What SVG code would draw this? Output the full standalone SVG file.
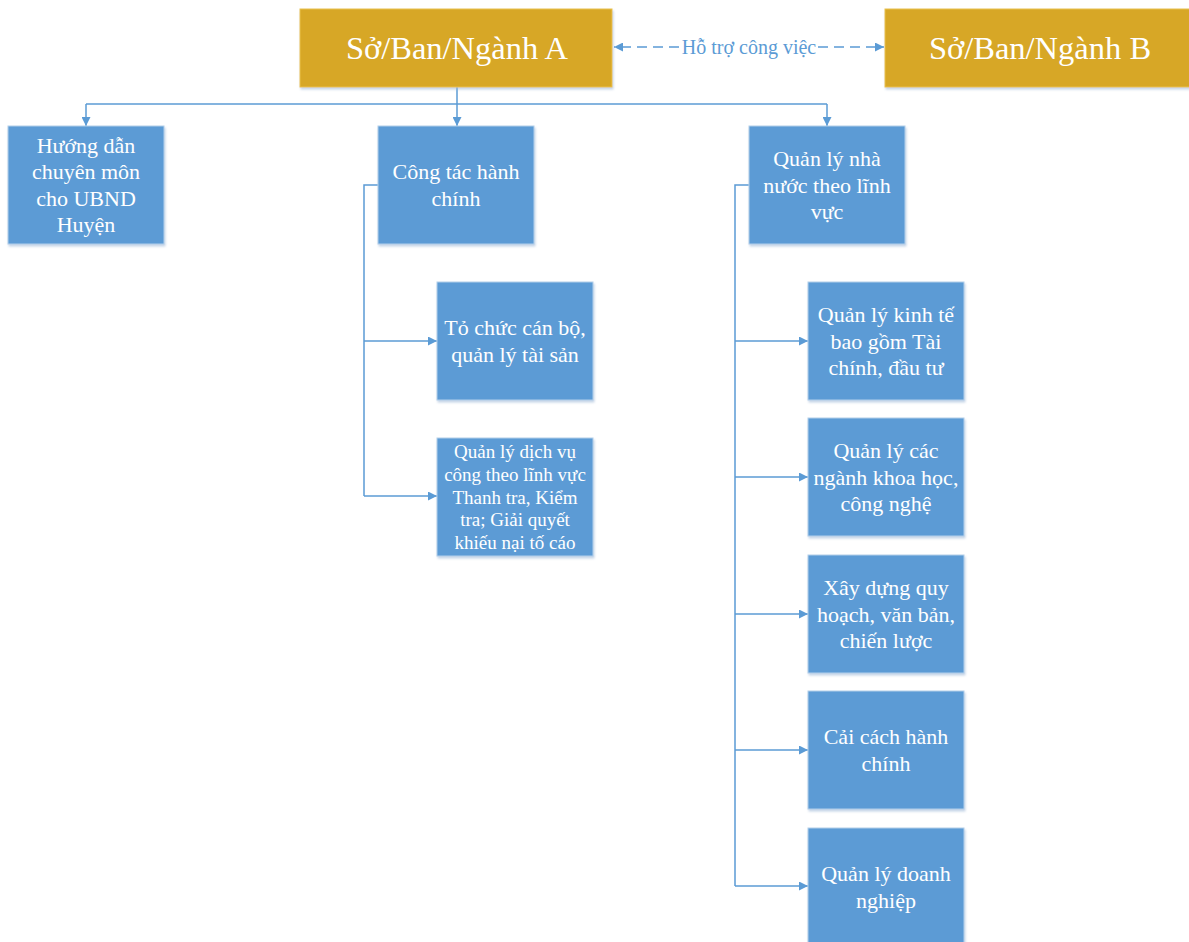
<svg xmlns="http://www.w3.org/2000/svg" width="1189" height="942" viewBox="0 0 1189 942">
  <defs>
    <marker id="arrow" viewBox="0 0 10 10" refX="10" refY="5" markerWidth="11" markerHeight="9" markerUnits="userSpaceOnUse" orient="auto-start-reverse">
      <path d="M0,0 L10,5 L0,10 Z" fill="#5B9BD5"/>
    </marker>
    <filter id="shadow" x="-5%" y="-5%" width="110%" height="115%">
      <feDropShadow dx="1" dy="2" stdDeviation="1" flood-color="#9DB8D6" flood-opacity="0.6"/>
    </filter>
  </defs>
  <style>
    .gold { fill: #D7A725; stroke: #EAC14A; stroke-width: 1; filter: url(#shadow); }
    .blue { fill: #5B9BD5; stroke: #B4CFEA; stroke-width: 1; filter: url(#shadow); }
    .big { font-family: "Liberation Serif", "Times New Roman", serif; font-size: 32.5px; fill: #FFFFFF; text-anchor: middle; }
    .lbl { font-family: "Liberation Serif", "Times New Roman", serif; font-size: 22px; fill: #FFFFFF; text-anchor: middle; }
    .sml { font-family: "Liberation Serif", "Times New Roman", serif; font-size: 19px; fill: #FFFFFF; text-anchor: middle; }
    .link { font-family: "Liberation Serif", "Times New Roman", serif; font-size: 20px; fill: #5B9BD5; text-anchor: middle; }
    .wire { fill: none; stroke: #5B9BD5; stroke-width: 1.5; }
    .dash { fill: none; stroke: #5B9BD5; stroke-width: 1.5; stroke-dasharray: 10 6; }
  </style>

  <rect width="1189" height="942" fill="#FFFFFF"/>

  <!-- connectors -->
  <g id="connectors">
    <!-- peer link between the two departments -->
    <path class="dash" d="M679,47 H614" marker-end="url(#arrow)"/>
    <path class="dash" d="M818,47 H884" marker-end="url(#arrow)"/>
    <text class="link" x="749" y="54">Hỗ trợ công việc</text>

    <!-- top tree -->
    <path class="wire" d="M457,87 V126" marker-end="url(#arrow)"/>
    <path class="wire" d="M86,104 H827"/>
    <path class="wire" d="M86,104 V126" marker-end="url(#arrow)"/>
    <path class="wire" d="M827,104 V126" marker-end="url(#arrow)"/>

    <!-- administrative branch -->
    <path class="wire" d="M378,185 H364 V496"/>
    <path class="wire" d="M364,341 H437" marker-end="url(#arrow)"/>
    <path class="wire" d="M364,496 H437" marker-end="url(#arrow)"/>

    <!-- state management branch -->
    <path class="wire" d="M749,185 H735 V886"/>
    <path class="wire" d="M735,341 H808" marker-end="url(#arrow)"/>
    <path class="wire" d="M735,477 H808" marker-end="url(#arrow)"/>
    <path class="wire" d="M735,614 H808" marker-end="url(#arrow)"/>
    <path class="wire" d="M735,750 H808" marker-end="url(#arrow)"/>
    <path class="wire" d="M735,886 H808" marker-end="url(#arrow)"/>
  </g>

  <g id="dept-a">
    <rect class="gold" x="300" y="9" width="312" height="78"/>
    <text class="big" x="457" y="59">Sở/Ban/Ngành A</text>
  </g>

  <g id="dept-b">
    <rect class="gold" x="885" y="9" width="310" height="78"/>
    <text class="big" x="1040" y="59">Sở/Ban/Ngành B</text>
  </g>

  <g id="guidance">
    <rect class="blue" x="8" y="126" width="156" height="118"/>
    <text class="lbl" x="86" y="153">Hướng dẫn</text>
    <text class="lbl" x="86" y="179.4">chuyên môn</text>
    <text class="lbl" x="86" y="205.8">cho UBND</text>
    <text class="lbl" x="86" y="232.2">Huyện</text>
  </g>

  <g id="admin">
    <rect class="blue" x="378" y="126" width="156" height="118"/>
    <text class="lbl" x="456" y="179.3">Công tác hành</text>
    <text class="lbl" x="456" y="205.7">chính</text>
  </g>

  <g id="state">
    <rect class="blue" x="749" y="126" width="156" height="118"/>
    <text class="lbl" x="827" y="166.1">Quản lý nhà</text>
    <text class="lbl" x="827" y="192.5">nước theo lĩnh</text>
    <text class="lbl" x="827" y="218.9">vực</text>
  </g>

  <g id="staff">
    <rect class="blue" x="437" y="282" width="156" height="118"/>
    <text class="lbl" x="515" y="335.3">Tỏ chức cán bộ,</text>
    <text class="lbl" x="515" y="361.7">quản lý tài sản</text>
  </g>

  <g id="public-service">
    <rect class="blue" x="437" y="438" width="156" height="118"/>
    <text class="sml" x="515" y="458">Quản lý dịch vụ</text>
    <text class="sml" x="515" y="480.8">công theo lĩnh vực</text>
    <text class="sml" x="515" y="503.6">Thanh tra, Kiểm</text>
    <text class="sml" x="515" y="526.4">tra; Giải quyết</text>
    <text class="sml" x="515" y="549.2">khiếu nại tố cáo</text>
  </g>

  <g id="economy">
    <rect class="blue" x="808" y="282" width="156" height="118"/>
    <text class="lbl" x="886" y="322.1">Quản lý kinh tế</text>
    <text class="lbl" x="886" y="348.5">bao gồm Tài</text>
    <text class="lbl" x="886" y="374.9">chính, đầu tư</text>
  </g>

  <g id="science">
    <rect class="blue" x="808" y="418" width="156" height="118"/>
    <text class="lbl" x="886" y="458.1">Quản lý các</text>
    <text class="lbl" x="886" y="484.5">ngành khoa học,</text>
    <text class="lbl" x="886" y="510.9">công nghệ</text>
  </g>

  <g id="planning">
    <rect class="blue" x="808" y="555" width="156" height="118"/>
    <text class="lbl" x="886" y="595.1">Xây dựng quy</text>
    <text class="lbl" x="886" y="621.5">hoạch, văn bản,</text>
    <text class="lbl" x="886" y="647.9">chiến lược</text>
  </g>

  <g id="reform">
    <rect class="blue" x="808" y="691" width="156" height="118"/>
    <text class="lbl" x="886" y="744.3">Cải cách hành</text>
    <text class="lbl" x="886" y="770.7">chính</text>
  </g>

  <g id="enterprise">
    <rect class="blue" x="808" y="828" width="156" height="118"/>
    <text class="lbl" x="886" y="881.3">Quản lý doanh</text>
    <text class="lbl" x="886" y="907.7">nghiệp</text>
  </g>
</svg>
